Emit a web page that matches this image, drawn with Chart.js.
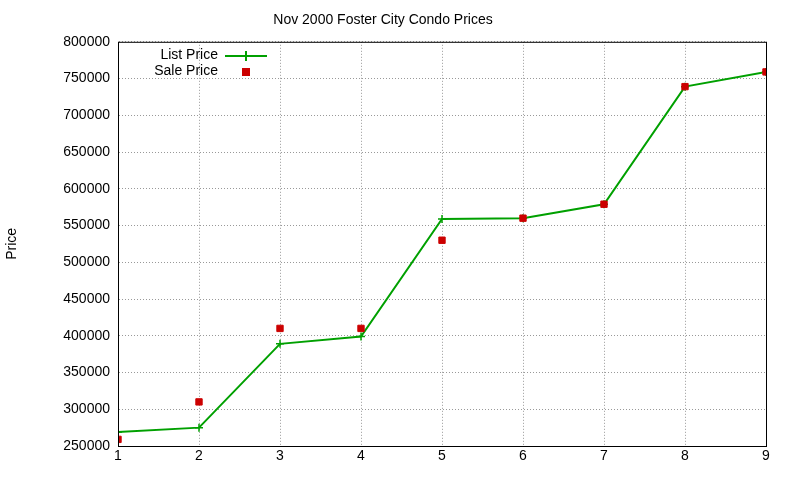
<!DOCTYPE html>
<html><head><script src="https://cdn.jsdelivr.net/npm/chart.js@4"></script>
<style>body{margin:0;background:#fff}</style></head>
<body><canvas id="c" width="800" height="480"></canvas>
<script>
const categories=[1,2,3,4,5,6,7,8,9];
const listPrice=[269000,275000,389000,399000,559000,560000,579000,739000,759000];
const salePrice=[259000,310000,410000,410000,530000,560000,579000,739000,759000];
const yTicks=[250000,300000,350000,400000,450000,500000,550000,600000,650000,700000,750000,800000];
const F='"Liberation Sans", Arial, sans-serif';
const legendPlugin={id:'lg',afterDraw(ch){const c=ch.ctx;c.save();c.font='14px '+F;c.fillStyle='#000';c.textAlign='right';c.textBaseline='middle';
c.fillText('List Price',218,55);c.fillText('Sale Price',218,71);
c.strokeStyle='#00a000';c.lineWidth=2;c.beginPath();c.moveTo(225,56);c.lineTo(267,56);c.moveTo(246,51);c.lineTo(246,61);c.stroke();
c.fillStyle='#cc0000';c.fillRect(242,68,8,8);
const a=ch.chartArea;c.strokeStyle='#000';c.lineWidth=1;c.strokeRect(a.left+0.5,a.top+0.5,a.right-a.left,a.bottom-a.top);c.restore();}};
new Chart(document.getElementById('c'),{type:'scatter',
data:{datasets:[
{label:'List Price',data:categories.map((x,i)=>({x,y:listPrice[i]})),showLine:true,borderColor:'#00a000',backgroundColor:'#00a000',borderWidth:2,pointStyle:'cross',pointRadius:4,pointBorderWidth:1.5,order:2},
{label:'Sale Price',data:categories.map((x,i)=>({x,y:salePrice[i]})),borderColor:'#cc0000',backgroundColor:'#cc0000',pointStyle:'rect',pointRadius:4.5,order:1}]},
options:{responsive:false,animation:false,devicePixelRatio:1,
layout:{padding:{top:0,right:34,left:0,bottom:0}},
plugins:{legend:{display:false},tooltip:{enabled:false},
title:{display:true,text:'Nov 2000 Foster City Condo Prices',color:'#000',font:{family:F,size:14,weight:'normal'},padding:{top:12,bottom:13}}},
scales:{
x:{type:'linear',min:1,max:9,afterFit(s){s.height=34},afterBuildTicks(s){s.ticks=categories.map(v=>({value:v}))},
ticks:{color:'#000',font:{family:F,size:14},padding:2,autoSkip:false,maxRotation:0},
grid:{color:'#999',drawTicks:false},border:{display:true,color:'rgba(0,0,0,0)',dash:[1,2]}},
y:{min:250000,max:800000,afterFit(s){s.width=118},afterBuildTicks(s){s.ticks=yTicks.map(v=>({value:v}))},
ticks:{color:'#000',font:{family:F,size:14},padding:8,autoSkip:false,callback:v=>String(v)},
title:{display:true,text:'Price',color:'#000',font:{family:F,size:14}},
grid:{color:'#999',drawTicks:false},border:{display:true,color:'rgba(0,0,0,0)',dash:[1,2]}}}},
plugins:[legendPlugin]});
</script></body></html>
